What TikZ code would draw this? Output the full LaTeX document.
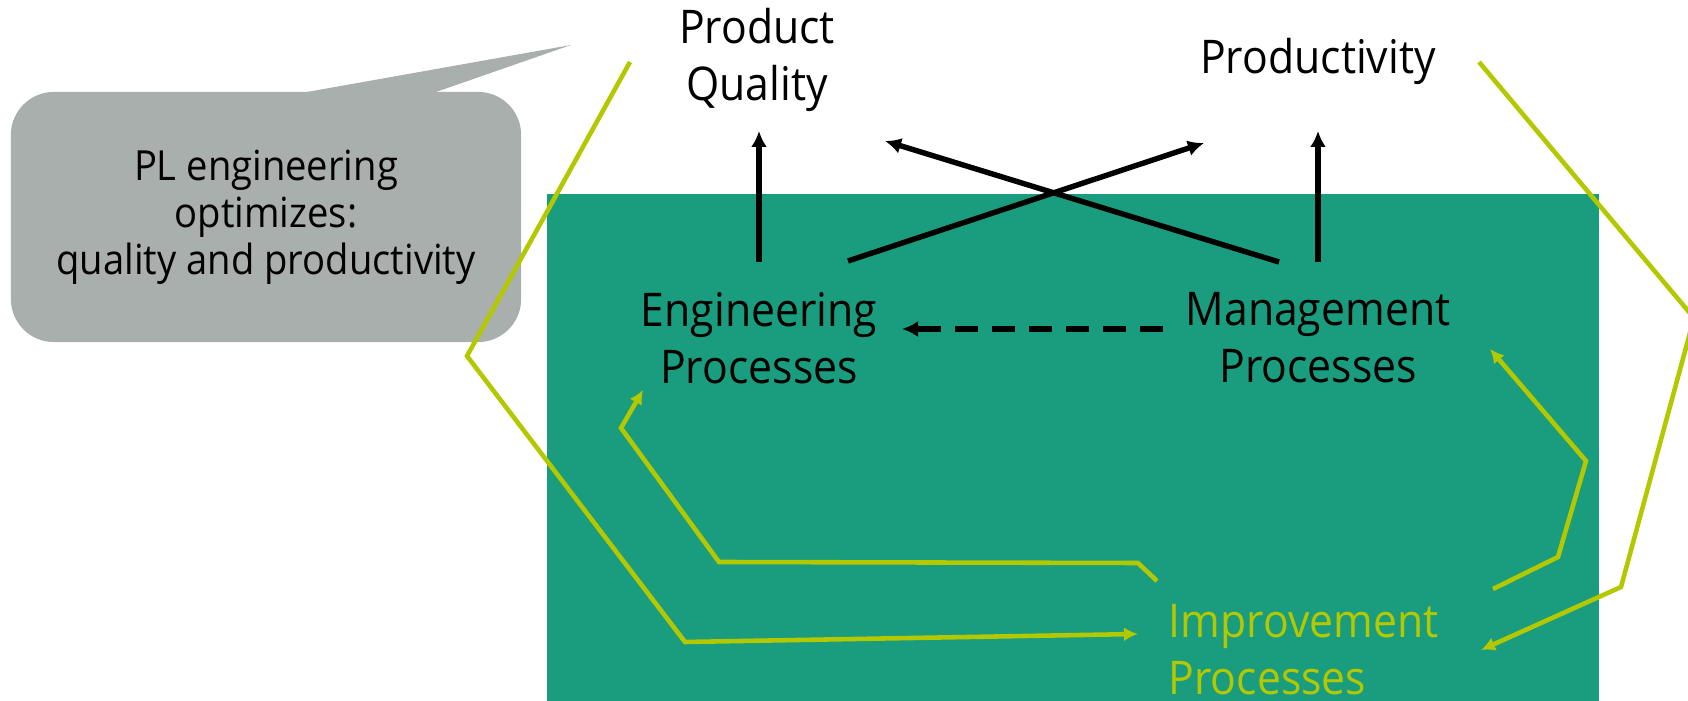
\documentclass[tikz,border=0pt]{standalone}
\usepackage{fontspec}
\setmainfont{Open Sans}[FakeStretch=0.92]
\usetikzlibrary{arrows.meta}

\definecolor{procgreen}{RGB}{25,157,126}
\definecolor{limegreen}{RGB}{180,200,0}
\definecolor{notegray}{RGB}{168,175,173}

\tikzset{
  bigtext/.style={font=\fontsize{13.2}{16.2}\selectfont, align=center, inner sep=0pt},
  notebox/.style={fill=notegray, rounded corners=0.43cm, minimum width=5.1cm,
    minimum height=2.5cm, align=center, font=\fontsize{11.8}{13.3}\selectfont},
  blk/.style={line width=1.55pt, -{Latex[length=1.6mm, width=1.6mm]}},
  dashline/.style={blk, dash pattern=on 0.23cm off 0.14cm},
  limeline/.style={limegreen, line width=1.3pt, -{Latex[length=1.4mm, width=1.4mm]}}
}

\begin{document}
\begin{tikzpicture}[x=0.01cm, y=-0.01cm]
  \clip (0,0) rectangle (1688,701);
  \fill[procgreen] (547,194) rectangle (1599,701);
  \fill[notegray] (307,92) -- (571,45) -- (436,92) -- cycle;
  \node[notebox] (note) at (266,217) {PL engineering\\optimizes:\\quality and productivity};

  \node[bigtext] (quality) at (757,60) {Product\\Quality};
  \node[bigtext] (prod) at (1318,61) {Productivity};
  \node[bigtext] (eng) at (759,338) {Engineering\\Processes};
  \node[bigtext] (mgmt) at (1318,338) {Management\\Processes};
  \node[bigtext, align=left, anchor=west, text=limegreen] (impr) at (1168,650) {Improvement\\Processes};

  \draw[limeline] ([shift={(-127,2)}]quality.center) -- (467,356) -- (685,642)
    -- ([shift={(-30,-16)}]impr.west);
  \draw[limeline] ([shift={(-11,-69)}]impr.west) -- (1138,563) -- (719,562) -- (621,428)
    -- ([shift={(-116,52)}]eng.center);
  \draw[limeline] ([shift={(325,-61)}]impr.west) -- (1558,557) -- (1586,461)
    -- ([shift={(172,11)}]mgmt.center);
  \draw[limeline] ([shift={(161,1)}]prod.center) -- (1694,318) -- (1621,587)
    -- ([shift={(313,0)}]impr.west);

  \draw[blk] ([shift={(0,-76)}]eng.center) -- ([shift={(2,71)}]quality.center);
  \draw[blk] ([shift={(0,-76)}]mgmt.center) -- ([shift={(0,70)}]prod.center);
  \draw[blk] ([shift={(89,-77)}]eng.center) -- ([shift={(-114,82)}]prod.center);
  \draw[blk] ([shift={(-39,-76)}]mgmt.center) -- ([shift={(128,81)}]quality.center);
  \draw[dashline] ([shift={(-155,-9)}]mgmt.center) -- ([shift={(143,-9)}]eng.center);
\end{tikzpicture}
\end{document}
